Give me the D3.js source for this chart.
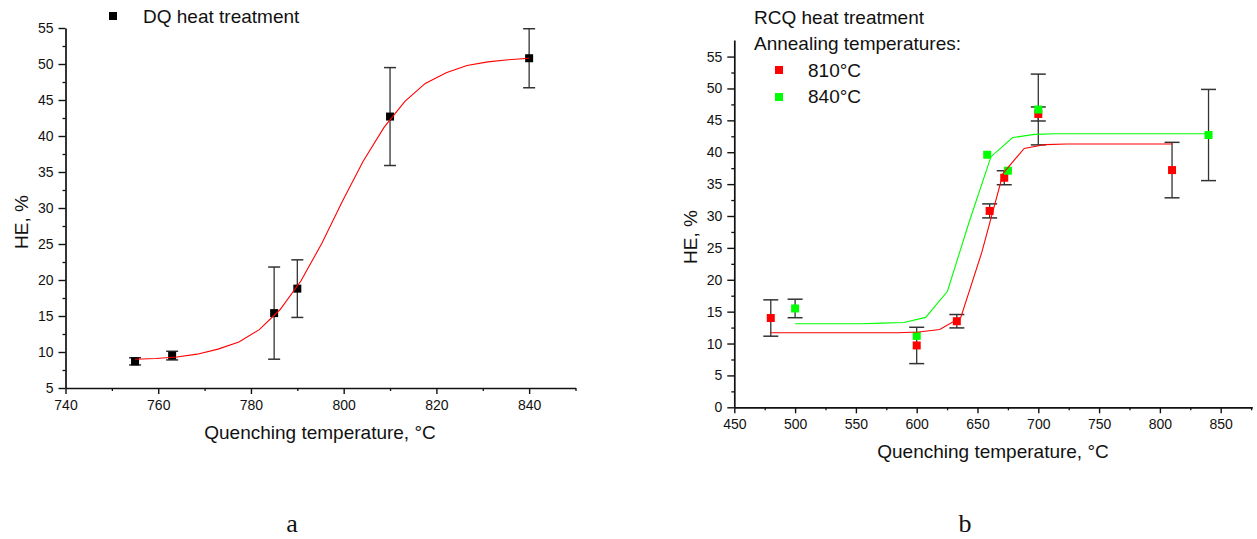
<!DOCTYPE html>
<html>
<head>
<meta charset="utf-8">
<script src="https://cdn.jsdelivr.net/npm/d3@7"></script>
<style>
  body { margin: 0; background: #fff; }
  svg text { font-family: "Liberation Sans", Arial, sans-serif; fill: #111; }
</style>
</head>
<body>
<svg id="chart" width="1257" height="539"></svg>
<script>
// ---- chart a: DQ heat treatment ----
var dqTemp = [755, 763, 785, 790, 810, 840];
var dqHE   = [8.7, 9.5, 15.4, 18.8, 42.7, 50.8];
var dqErr  = [0.5, 0.6, 6.4, 4.0, 6.8, 4.1];

var dqFitT  = [755, 759.5, 764, 768.4, 772.9, 777.4, 781.8, 786.3, 790.8, 795.3,
               799.7, 804.2, 808.7, 813.2, 817.6, 822.1, 826.6, 831.1, 835.5, 840];
var dqFitHE = [9.0, 9.1, 9.3, 9.7, 10.4, 11.4, 13.1, 15.9, 19.9, 25.1,
               30.9, 36.5, 41.2, 44.8, 47.3, 48.8, 49.8, 50.3, 50.6, 50.8];

var aXTicks = [740, 760, 780, 800, 820, 840];
var aYTicks = [5, 10, 15, 20, 25, 30, 35, 40, 45, 50, 55];

// ---- chart b: RCQ heat treatment ----
var t810   = [480, 600, 633, 660, 672, 700, 810];
var he810  = [14.0, 9.7, 13.5, 30.8, 36.0, 46.0, 37.2];
var err810 = [2.85, 2.85, 1.05, 1.1, 1.1, 1.1, 4.35];

var t840   = [500, 600, 658, 675, 700, 840];
var he840  = [15.5, 11.2, 39.6, 37.1, 46.7, 42.7];
var err840 = [1.45, 0, 0, 0, 5.55, 7.15];

var fit810T  = [480, 497.4, 514.7, 532.1, 549.5, 566.8, 584.2, 601.6, 618.9, 636.3,
                653.7, 671.1, 688.4, 705.8, 723.2, 740.5, 757.9, 775.3, 792.6, 810];
var fit810HE = [11.7, 11.7, 11.7, 11.7, 11.7, 11.7, 11.7, 11.8, 12.2, 14.1,
                24.4, 36.7, 40.6, 41.2, 41.3, 41.3, 41.3, 41.3, 41.3, 41.3];

var fit840T  = [500, 517.9, 535.8, 553.7, 571.6, 589.5, 607.4, 625.3, 643.2, 661.1,
                678.9, 696.8, 714.7, 732.6, 750.5, 768.4, 786.3, 804.2, 822.1, 840];
var fit840HE = [13.1, 13.1, 13.1, 13.1, 13.2, 13.3, 14.1, 18.2, 29.1, 39.3,
                42.3, 42.8, 42.9, 42.9, 42.9, 42.9, 42.9, 42.9, 42.9, 42.9];

var bXTicks = [450, 500, 550, 600, 650, 700, 750, 800, 850];
var bYTicks = [0, 5, 10, 15, 20, 25, 30, 35, 40, 45, 50, 55];

var svg = d3.select("#chart");

function zip(xs, ys) { return xs.map(function (x, i) { return [x, ys[i]]; }); }

function drawAxes(g, x, y, xTicks, yTicks, xMinor, yMinor) {
    var h = y.range()[0];
    var xl = x.range()[0];

    var xa = g.append("g").attr("transform", "translate(0," + h + ")")
        .call(d3.axisBottom(x).tickValues(xMinor).tickSize(3).tickFormat("").tickSizeOuter(0));
    xa.selectAll("line").attr("stroke", "#111").attr("stroke-width", 1.3);
    xa.select(".domain").remove();

    var ya = g.append("g").attr("transform", "translate(" + xl + ",0)")
        .call(d3.axisLeft(y).tickValues(yMinor).tickSize(3).tickFormat("").tickSizeOuter(0));
    ya.selectAll("line").attr("stroke", "#111").attr("stroke-width", 1.3);
    ya.select(".domain").remove();

    var xA = g.append("g").attr("transform", "translate(0," + h + ")")
        .call(d3.axisBottom(x).tickValues(xTicks).tickSize(6).tickPadding(6).tickSizeOuter(0));
    var yA = g.append("g").attr("transform", "translate(" + xl + ",0)")
        .call(d3.axisLeft(y).tickValues(yTicks).tickSize(7).tickPadding(5).tickSizeOuter(0));

    [xA, yA].forEach(function (a) {
        a.select(".domain").attr("stroke", "#111").attr("stroke-width", 1.7);
        a.selectAll(".tick line").attr("stroke", "#111").attr("stroke-width", 1.4);
        a.selectAll(".tick text").attr("font-size", 14)
            .style("font-family", "'Liberation Sans', Arial, sans-serif").attr("fill", "#111");
    });
}

function errorBars(g, x, y, ts, vs, es, cap) {
    ts.forEach(function (t, i) {
        if (!es[i]) return;
        var cx = x(t), y1 = y(vs[i] + es[i]), y2 = y(vs[i] - es[i]);
        g.append("line").attr("x1", cx).attr("x2", cx).attr("y1", y1).attr("y2", y2)
            .attr("stroke", "#333").attr("stroke-width", 1.3);
        [y1, y2].forEach(function (yy) {
            g.append("line").attr("x1", cx - cap / 2).attr("x2", cx + cap / 2)
                .attr("y1", yy).attr("y2", yy)
                .attr("stroke", "#333").attr("stroke-width", 1.5);
        });
    });
}

function squares(g, x, y, ts, vs, color) {
    g.selectAll(null).data(zip(ts, vs)).enter().append("rect")
        .attr("x", function (d) { return x(d[0]) - 4; })
        .attr("y", function (d) { return y(d[1]) - 4; })
        .attr("width", 8).attr("height", 8)
        .attr("fill", color);
}

function fitLine(g, x, y, ts, vs, color) {
    g.append("path").datum(zip(ts, vs))
        .attr("fill", "none").attr("stroke", color).attr("stroke-width", 1.1)
        .attr("d", d3.line().x(function (d) { return x(d[0]); }).y(function (d) { return y(d[1]); }));
}

// ---------- chart a ----------
var xa = d3.scaleLinear().domain([740, 850]).range([65.5, 575.5]);
var ya = d3.scaleLinear().domain([5, 55]).range([388, 28]);
var ga = svg.append("g");

drawAxes(ga, xa, ya, aXTicks, aYTicks,
    d3.range(750, 851, 20), d3.range(7.5, 55, 5));

errorBars(ga, xa, ya, dqTemp, dqHE, dqErr, 12);
squares(ga, xa, ya, dqTemp, dqHE, "#000");
fitLine(ga, xa, ya, dqFitT, dqFitHE, "#ff0000");

ga.append("rect").attr("x", 109).attr("y", 12).attr("width", 8).attr("height", 8).attr("fill", "#000");
ga.append("text").attr("x", 143).attr("y", 23).attr("font-size", 19).text("DQ heat treatment");

ga.append("text").attr("x", 320).attr("y", 439).attr("font-size", 19)
    .attr("text-anchor", "middle").text("Quenching temperature, °C");
ga.append("text").attr("transform", "translate(28,222) rotate(-90)").attr("font-size", 19)
    .attr("text-anchor", "middle").text("HE, %");

// ---------- chart b ----------
var xb = d3.scaleLinear().domain([450, 876]).range([734.3, 1252.3]);
var yb = d3.scaleLinear().domain([0, 57.6]).range([407.3, 40]);
var gb = svg.append("g");

drawAxes(gb, xb, yb, bXTicks, bYTicks,
    d3.range(475, 876, 50), d3.range(2.5, 57, 5));

errorBars(gb, xb, yb, t810, he810, err810, 15);
errorBars(gb, xb, yb, t840, he840, err840, 15);
squares(gb, xb, yb, t810, he810, "#ff0000");
squares(gb, xb, yb, t840, he840, "#00ff00");
fitLine(gb, xb, yb, fit810T, fit810HE, "#ff0000");
fitLine(gb, xb, yb, fit840T, fit840HE, "#00ff00");

gb.append("text").attr("x", 754).attr("y", 24).attr("font-size", 19).text("RCQ heat treatment");
gb.append("text").attr("x", 754).attr("y", 50).attr("font-size", 19).text("Annealing temperatures:");
gb.append("rect").attr("x", 775).attr("y", 66).attr("width", 8).attr("height", 8).attr("fill", "#ff0000");
gb.append("text").attr("x", 808).attr("y", 77).attr("font-size", 19).text("810°C");
gb.append("rect").attr("x", 775).attr("y", 93).attr("width", 8).attr("height", 8).attr("fill", "#00ff00");
gb.append("text").attr("x", 808).attr("y", 103).attr("font-size", 19).text("840°C");

gb.append("text").attr("x", 993).attr("y", 458).attr("font-size", 19)
    .attr("text-anchor", "middle").text("Quenching temperature, °C");
gb.append("text").attr("transform", "translate(697,237) rotate(-90)").attr("font-size", 19)
    .attr("text-anchor", "middle").text("HE, %");

// panel letters
svg.append("text").attr("x", 292).attr("y", 532).attr("font-size", 26)
    .attr("text-anchor", "middle").style("font-family", "'Liberation Serif', 'Times New Roman', serif").text("a");
svg.append("text").attr("x", 965).attr("y", 532).attr("font-size", 26)
    .attr("text-anchor", "middle").style("font-family", "'Liberation Serif', 'Times New Roman', serif").text("b");
</script>
</body>
</html>
